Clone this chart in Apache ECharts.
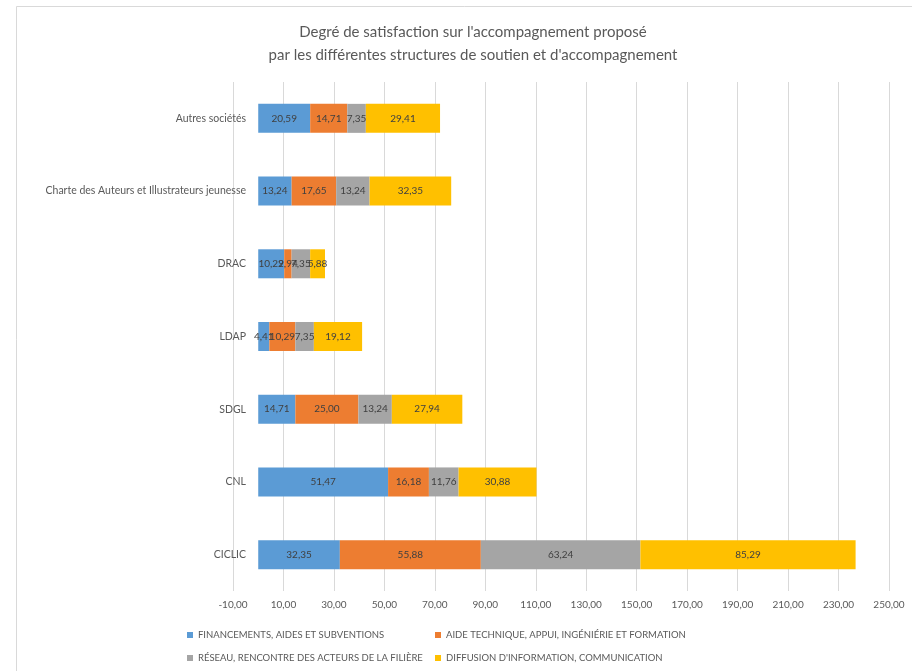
<!DOCTYPE html>
<html><head><meta charset="utf-8">
<script src="https://cdn.jsdelivr.net/npm/echarts@6/dist/echarts.min.js"></script>
<style>html,body{margin:0;padding:0;background:#fff}#c{width:912px;height:671px}</style>
</head><body><div id="c"></div>
<script>
const categories = ["Autres sociétés", "Charte des Auteurs et Illustrateurs jeunesse", "DRAC", "LDAP", "SDGL", "CNL", "CICLIC"];
const seriesNames = ["FINANCEMENTS, AIDES ET SUBVENTIONS", "AIDE TECHNIQUE, APPUI, INGÉNIÉRIE ET FORMATION", "RÉSEAU, RENCONTRE DES ACTEURS DE LA FILIÈRE", "DIFFUSION D'INFORMATION, COMMUNICATION"];
const financements = [20.59, 13.24, 10.29, 4.41, 14.71, 51.47, 32.35];
const aideTechnique = [14.71, 17.65, 2.94, 10.29, 25.00, 16.18, 55.88];
const reseau = [7.35, 13.24, 7.35, 7.35, 13.24, 11.76, 63.24];
const diffusion = [29.41, 32.35, 5.88, 19.12, 27.94, 30.88, 85.29];
const colors = ["#5B9BD5", "#ED7D31", "#A5A5A5", "#FFC000"];
const FONT = "Lato, 'Liberation Sans', sans-serif";
const fmt = v => Number(v).toFixed(2).replace('.', ',');

const values = [financements, aideTechnique, reseau, diffusion];
const legendText = {fontFamily: FONT, fontSize: 9.5, color: '#595959', lineHeight: 12};
const chart = echarts.init(document.getElementById('c'), null, {renderer: 'canvas'});
chart.setOption({
  animation: false,
  backgroundColor: '#fff',
  graphic: [{type: 'rect', shape: {x: 16.5, y: 6.5, width: 940, height: 700}, style: {fill: 'none', stroke: '#d9d9d9', lineWidth: 1}, silent: true}],
  title: {
    text: "Degré de satisfaction sur l'accompagnement proposé\npar les différentes structures de soutien et d'accompagnement",
    left: 468, top: 16, textAlign: 'center',
    textStyle: {fontFamily: FONT, fontSize: 15, fontWeight: 'normal', color: '#595959', lineHeight: 23}
  },
  legend: [
    {orient: 'vertical', left: 187, top: 629, height: 40, padding: 0, itemWidth: 6, itemHeight: 6, itemGap: 11,
     icon: 'rect', data: [seriesNames[0], seriesNames[2]], textStyle: legendText},
    {orient: 'vertical', left: 435, top: 629, height: 40, padding: 0, itemWidth: 6, itemHeight: 6, itemGap: 11,
     icon: 'rect', data: [seriesNames[1], seriesNames[3]], textStyle: legendText}
  ],
  grid: {left: 233, right: 23, top: 82, bottom: 80, containLabel: false},
  xAxis: {
    type: 'value', min: -10, max: 250, interval: 20,
    axisLine: {show: false}, axisTick: {show: false},
    splitLine: {show: true, lineStyle: {color: '#d9d9d9', width: 1}},
    axisLabel: {fontFamily: FONT, fontSize: 10, color: '#595959', margin: 9, formatter: fmt}
  },
  yAxis: {
    type: 'category', data: categories, inverse: true,
    axisLine: {show: false}, axisTick: {show: false},
    axisLabel: {fontFamily: FONT, fontSize: 10.5, color: '#595959', margin: -13}
  },
  series: seriesNames.map((n, i) => ({
    name: n, type: 'bar', stack: 'total', barWidth: 29,
    itemStyle: {color: colors[i]},
    label: {show: true, position: 'inside', formatter: p => fmt(p.value),
            fontFamily: FONT, fontSize: 10, color: '#404040'},
    data: values[i]
  }))
});
</script></body></html>
